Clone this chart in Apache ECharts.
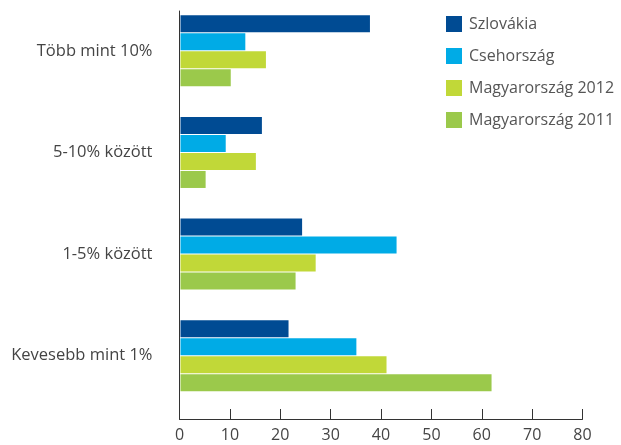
<!DOCTYPE html>
<html>
<head>
<meta charset="utf-8">
<script src="https://cdn.jsdelivr.net/npm/echarts@6/dist/echarts.min.js"></script>
<style>
  html, body { margin: 0; padding: 0; background: #fff; }
  #chart { width: 621px; height: 445px; }
</style>
</head>
<body>
<div id="chart"></div>
<script>
  // kategóriák felülről lefelé
  var categories = ['Több mint 10%', '5-10% között', '1-5% között', 'Kevesebb mint 1%'];
  var seriesNames = ['Szlovákia', 'Csehország', 'Magyarország 2012', 'Magyarország 2011'];
  var szlovakia = [37.7, 16.2, 24.2, 21.5];
  var csehorszag = [12.9, 9.0, 43.0, 35.0];
  var magyar2012 = [17.0, 15.0, 26.9, 41.0];
  var magyar2011 = [10.0, 5.0, 22.9, 61.9];
  var xTicks = [0, 10, 20, 30, 40, 50, 60, 70, 80];
  var colors = ['#004b93', '#00abe6', '#c1d838', '#9bc94b'];

  var font = '"Open Sans", "Noto Sans", sans-serif';
  var myChart = echarts.init(document.getElementById('chart'));

  var values = [szlovakia, csehorszag, magyar2012, magyar2011];
  var series = values.map(function (d, i) {
    return {
      name: seriesNames[i],
      type: 'bar',
      xAxisIndex: 0,
      yAxisIndex: 0,
      data: d,
      barWidth: 17,
      barGap: '6%',
      itemStyle: { color: colors[i] },
      silent: true
    };
  });

  var option = {
    animation: false,
    color: colors,
    legend: {
      orient: 'vertical',
      left: 441,
      top: 11,
      itemWidth: 16,
      itemHeight: 16,
      itemGap: 16,
      icon: 'rect',
      data: seriesNames,
      textStyle: { fontFamily: font, fontSize: 16, color: '#555', padding: [0, 0, 0, 2] }
    },
    grid: [
      // a sávoknak
      { left: 180.5, right: 38.5, top: -1.5, height: 408 },
      // a tengelyeknek
      { left: 179.5, right: 38.5, top: 11, height: 408 }
    ],
    xAxis: [
      { gridIndex: 0, type: 'value', min: 0, max: 80, show: false },
      {
        gridIndex: 1, type: 'value', min: 0, max: 80, interval: 10,
        axisLine: { show: true, lineStyle: { color: '#333', width: 1 } },
        axisTick: { show: true, inside: true, length: 10, lineStyle: { color: '#333' } },
        axisLabel: { fontFamily: font, fontSize: 16, color: '#444', margin: 8,
          formatter: function (v) { return xTicks.indexOf(v) >= 0 ? String(v) : ''; } },
        splitLine: { show: false }
      }
    ],
    yAxis: [
      {
        gridIndex: 0, type: 'category', inverse: true, data: categories,
        axisLine: { show: false }, axisTick: { show: false },
        axisLabel: { fontFamily: font, fontSize: 16.5, color: '#444', margin: 28 }
      },
      {
        gridIndex: 1, type: 'category', inverse: true, data: categories,
        axisLine: { show: true, lineStyle: { color: '#333', width: 1 } },
        axisTick: { show: false }, axisLabel: { show: false }
      }
    ],
    series: series
  };

  myChart.setOption(option);
</script>
</body>
</html>
